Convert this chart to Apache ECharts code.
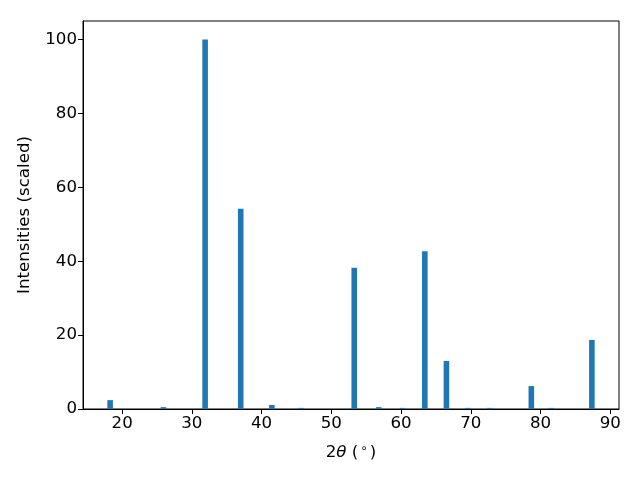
<!DOCTYPE html>
<html>
<head>
<meta charset="utf-8">
<script src="https://cdn.jsdelivr.net/npm/echarts@6/dist/echarts.min.js"></script>
<style>html,body{margin:0;padding:0;background:#fff}#c{width:640px;height:480px}</style>
</head>
<body>
<div id="c"></div>
<script>
// Peak positions (2θ, degrees) and scaled intensities
var twoTheta = [18.28, 25.93, 31.9, 37.0, 41.47, 45.68, 53.28, 56.8, 60.17, 63.4, 66.5, 69.6, 72.7, 78.67, 81.5, 87.35];
var intensity = [2.4, 0.5, 100, 54.2, 1.1, 0.3, 38.2, 0.5, 0.3, 42.7, 13.0, 0.3, 0.3, 6.2, 0.3, 18.7];
var xTicks = [20, 30, 40, 50, 60, 70, 80, 90];
var yTicks = [0, 20, 40, 60, 80, 100];
var barWidthData = 0.8;

var data = twoTheta.map(function (t, i) { return [t, intensity[i]]; });
var chart = echarts.init(document.getElementById('c'), null, {renderer: 'canvas'});
var font = 'DejaVu Sans';
var fs = 16.67;
chart.setOption({
  animation: false,
  grid: {left: 83, right: 21, top: 21, bottom: 71, show: true, borderColor: '#000', borderWidth: 1, backgroundColor: 'transparent'},
  xAxis: {
    type: 'value', min: 14.39, max: 91.24,
    name: '{n|2}{t|θ}{n| (}{s|∘}{n|)}',
    nameLocation: 'middle', nameGap: 34,
    nameTextStyle: {rich: {
      n: {fontFamily: font, fontSize: fs, color: '#000'},
      t: {fontFamily: font, fontSize: fs, fontStyle: 'italic', color: '#000'},
      s: {fontFamily: font, fontSize: 12, color: '#000', verticalAlign: 'top', padding: [0, 2, 8, 2]}
    }},
    axisLine: {show: true, onZero: false, lineStyle: {color: '#000', width: 1}},
    axisTick: {show: true, length: 5, inside: false, customValues: xTicks, lineStyle: {color: '#000'}},
    axisLabel: {customValues: xTicks, fontFamily: font, fontSize: fs, color: '#000', margin: 6},
    splitLine: {show: false}
  },
  yAxis: {
    type: 'value', min: 0, max: 105,
    name: 'Intensities (scaled)', nameLocation: 'middle', nameGap: 50,
    nameTextStyle: {fontFamily: font, fontSize: fs, color: '#000'},
    axisLine: {show: true, lineStyle: {color: '#000', width: 1}},
    axisTick: {show: true, length: 5, customValues: yTicks, lineStyle: {color: '#000'}},
    axisLabel: {customValues: yTicks, fontFamily: font, fontSize: fs, color: '#000', margin: 6},
    splitLine: {show: false}
  },
  series: [{
    type: 'custom',
    data: data,
    clip: true,
    renderItem: function (params, api) {
      var x = api.value(0), y = api.value(1);
      var p0 = api.coord([x - barWidthData / 2, y]);
      var p1 = api.coord([x + barWidthData / 2, 0]);
      return {
        type: 'rect',
        shape: {x: p0[0], y: p0[1], width: p1[0] - p0[0], height: p1[1] - p0[1]},
        style: {fill: '#1f77b4'}
      };
    }
  }]
});
</script>
</body>
</html>
